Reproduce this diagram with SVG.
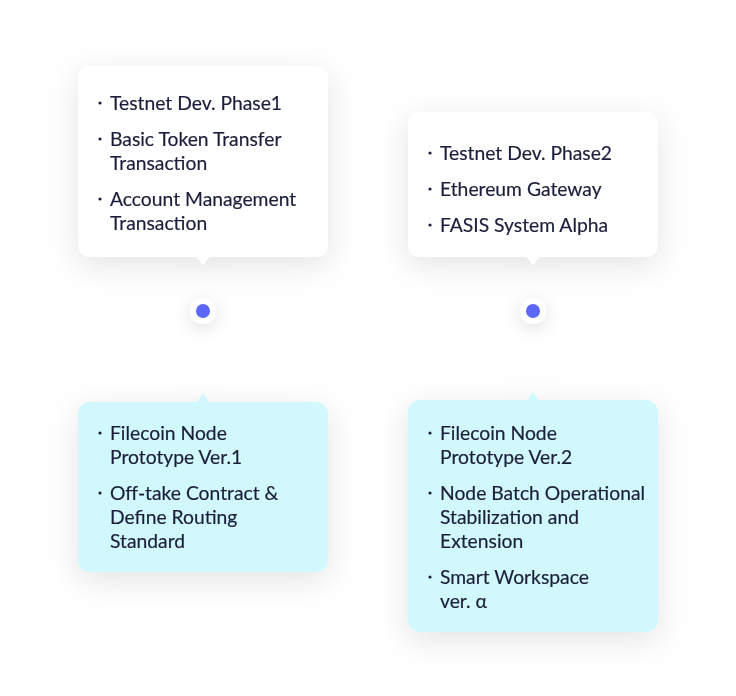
<svg xmlns="http://www.w3.org/2000/svg" width="736" height="696" viewBox="0 0 736 696">
<defs>
<filter id="sh" x="-40%" y="-40%" width="180%" height="180%">
<feDropShadow dx="0" dy="8" stdDeviation="16" flood-color="#000" flood-opacity="0.11"/>
</filter>
<filter id="dsh" x="-200%" y="-200%" width="500%" height="500%">
<feDropShadow dx="0" dy="4" stdDeviation="9" flood-color="#000" flood-opacity="0.12"/>
</filter>
<style>
.w{fill:#ffffff}
.c{fill:#d0f8fd}
.t{font-family:Lato,"Noto Sans",sans-serif;font-size:19.3px;fill:#1c1f3b;stroke:#1c1f3b;stroke-width:0.18px}
.b{fill:#1c1f3b}
.d{font-family:Lato,"Noto Sans",sans-serif;font-size:20px;font-weight:bold;fill:#ffffff;text-anchor:middle}
</style>
</defs>
<rect width="736" height="696" fill="#ffffff"/>
<g id="card1" filter="url(#sh)">
<path class="w" d="M90,66 H316 A12,12 0 0 1 328,78 V245 A12,12 0 0 1 316,257 H209 L203,265 L197,257 H90 A12,12 0 0 1 78,245 V78 A12,12 0 0 1 90,66 Z"/>
<circle class="b" cx="100" cy="103" r="1.6"/>
<circle class="b" cx="100" cy="139" r="1.6"/>
<circle class="b" cx="100" cy="199" r="1.6"/>
<text class="t"><tspan x="110" y="109.5">Testnet Dev. Phase1</tspan><tspan x="110" y="145.5">Basic Token Transfer</tspan><tspan x="110" y="169.5">Transaction</tspan><tspan x="110" y="205.5">Account Management</tspan><tspan x="110" y="229.5">Transaction</tspan></text>
</g>
<g id="card2" filter="url(#sh)">
<path class="w" d="M420,112 H646 A12,12 0 0 1 658,124 V245 A12,12 0 0 1 646,257 H539 L533,265 L527,257 H420 A12,12 0 0 1 408,245 V124 A12,12 0 0 1 420,112 Z"/>
<circle class="b" cx="430" cy="153" r="1.6"/>
<circle class="b" cx="430" cy="189" r="1.6"/>
<circle class="b" cx="430" cy="225" r="1.6"/>
<text class="t"><tspan x="440" y="159.5">Testnet Dev. Phase2</tspan><tspan x="440" y="195.5">Ethereum Gateway</tspan><tspan x="440" y="231.5">FASIS System Alpha</tspan></text>
</g>
<g id="dot1">
<circle cx="203" cy="311" r="13" class="w" filter="url(#dsh)"/>
<circle cx="203" cy="311" r="7" fill="#5b67f8"/>
<text class="d" x="203" y="355">2020.3</text>
</g>
<g id="dot2">
<circle cx="533" cy="311" r="13" class="w" filter="url(#dsh)"/>
<circle cx="533" cy="311" r="7" fill="#5b67f8"/>
<text class="d" x="533" y="355">2020.4</text>
</g>
<g id="card3" filter="url(#sh)">
<path class="c" d="M90,402 H197 L203,393 L209,402 H316 A12,12 0 0 1 328,414 V560 A12,12 0 0 1 316,572 H90 A12,12 0 0 1 78,560 V414 A12,12 0 0 1 90,402 Z"/>
<circle class="b" cx="100" cy="433" r="1.6"/>
<circle class="b" cx="100" cy="493" r="1.6"/>
<text class="t"><tspan x="110" y="439.5">Filecoin Node</tspan><tspan x="110" y="463.5">Prototype Ver.1</tspan><tspan x="110" y="499.5">Off-take Contract &amp;</tspan><tspan x="110" y="523.5">Define Routing</tspan><tspan x="110" y="547.5">Standard</tspan></text>
</g>
<g id="card4" filter="url(#sh)">
<path class="c" d="M420,400 H527 L533,392 L539,400 H646 A12,12 0 0 1 658,412 V620 A12,12 0 0 1 646,632 H420 A12,12 0 0 1 408,620 V412 A12,12 0 0 1 420,400 Z"/>
<circle class="b" cx="430" cy="433" r="1.6"/>
<circle class="b" cx="430" cy="493" r="1.6"/>
<circle class="b" cx="430" cy="577" r="1.6"/>
<text class="t"><tspan x="440" y="439.5">Filecoin Node</tspan><tspan x="440" y="463.5">Prototype Ver.2</tspan><tspan x="440" y="499.5">Node Batch Operational</tspan><tspan x="440" y="523.5">Stabilization and</tspan><tspan x="440" y="547.5">Extension</tspan><tspan x="440" y="583.5">Smart Workspace</tspan><tspan x="440" y="607.5">ver. α</tspan></text>
</g>
<g id="connectors"/>
</svg>
